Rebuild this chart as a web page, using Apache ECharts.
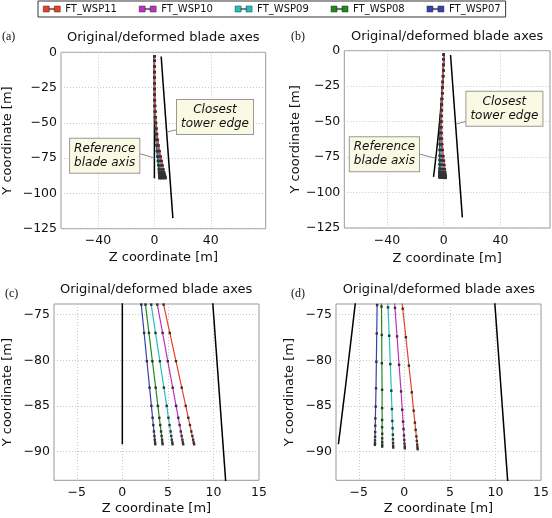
<!DOCTYPE html>
<html><head><meta charset="utf-8">
<script src="https://cdn.jsdelivr.net/npm/echarts@6/dist/echarts.min.js"></script>
<style>html,body{margin:0;padding:0;background:#fff}#c{width:552px;height:518px}</style>
</head><body><div id="c"></div>
<script>
// ---------------- DATA ----------------
const seriesNames = ['FT_WSP11', 'FT_WSP10', 'FT_WSP09', 'FT_WSP08', 'FT_WSP07'];
const seriesColors = ['#e8402a', '#c030c0', '#22bfbf', '#1f8a1f', '#3444a8'];

// blade stations (Y coordinate, m)
const stationsY = [-2.8, -6, -10, -14, -18, -22, -26, -30, -34, -38, -42, -46, -50, -54, -58, -62, -66, -70,
  -73.9, -77.0, -80.1, -83.0, -85.0, -86.3, -87.1, -87.8, -88.3, -88.7, -89.0, -89.2];

// configuration A (panels a, c): Z coordinate of deformed blade axes
const wsp11A = [0, 0.00, 0.01, 0.03, 0.07, 0.11, 0.17, 0.26, 0.37, 0.51, 0.69, 0.92, 1.20, 1.54, 1.95, 2.45, 3.04, 3.74, 4.53, 5.21, 5.89, 6.52, 6.96, 7.24, 7.42, 7.57, 7.68, 7.77, 7.83, 7.88];
const wsp10A = [0, 0.00, 0.01, 0.03, 0.06, 0.09, 0.15, 0.22, 0.31, 0.43, 0.58, 0.78, 1.01, 1.30, 1.66, 2.08, 2.58, 3.17, 3.84, 4.42, 4.99, 5.53, 5.90, 6.14, 6.29, 6.42, 6.51, 6.59, 6.64, 6.68];
const wsp09A = [0, 0.00, 0.01, 0.02, 0.05, 0.08, 0.12, 0.18, 0.26, 0.36, 0.48, 0.64, 0.84, 1.08, 1.37, 1.71, 2.13, 2.62, 3.17, 3.64, 4.12, 4.56, 4.87, 5.06, 5.18, 5.30, 5.37, 5.43, 5.48, 5.51];
const wsp08A = [0, 0.00, 0.01, 0.02, 0.04, 0.06, 0.10, 0.14, 0.21, 0.29, 0.39, 0.51, 0.67, 0.86, 1.10, 1.37, 1.71, 2.10, 2.54, 2.92, 3.30, 3.66, 3.90, 4.06, 4.16, 4.25, 4.31, 4.36, 4.39, 4.42];
const wsp07A = [0, 0.00, 0.01, 0.02, 0.03, 0.05, 0.08, 0.12, 0.17, 0.23, 0.32, 0.42, 0.55, 0.71, 0.90, 1.12, 1.39, 1.71, 2.08, 2.39, 2.70, 2.99, 3.19, 3.32, 3.40, 3.47, 3.52, 3.56, 3.59, 3.61];
const refXA = [0, 0];
const refYA = [-2.8, -89.2];

// configuration B (panels b, d)
const wsp11B = [0, -0.05, -0.15, -0.30, -0.45, -0.63, -0.81, -0.98, -1.15, -1.29, -1.42, -1.51, -1.54, -1.53, -1.45, -1.29, -1.03, -0.66, -0.18, 0.17, 0.50, 0.82, 1.02, 1.16, 1.24, 1.32, 1.37, 1.41, 1.44, 1.46];
const wsp10B = [0, -0.05, -0.16, -0.31, -0.47, -0.65, -0.84, -1.03, -1.22, -1.39, -1.54, -1.68, -1.77, -1.82, -1.81, -1.75, -1.60, -1.36, -1.03, -0.80, -0.58, -0.36, -0.23, -0.14, -0.09, -0.04, -0.01, 0.02, 0.04, 0.05];
const wsp09B = [0, -0.05, -0.16, -0.31, -0.48, -0.67, -0.87, -1.08, -1.28, -1.47, -1.66, -1.83, -1.97, -2.07, -2.14, -2.16, -2.11, -1.99, -1.79, -1.66, -1.54, -1.43, -1.36, -1.32, -1.29, -1.26, -1.25, -1.24, -1.23, -1.22];
const wsp08B = [0, -0.05, -0.16, -0.32, -0.49, -0.69, -0.90, -1.12, -1.34, -1.56, -1.77, -1.98, -2.16, -2.32, -2.46, -2.55, -2.59, -2.59, -2.51, -2.48, -2.47, -2.44, -2.44, -2.44, -2.44, -2.43, -2.43, -2.43, -2.43, -2.43];
const wsp07B = [0, -0.05, -0.16, -0.32, -0.50, -0.70, -0.92, -1.14, -1.38, -1.61, -1.84, -2.07, -2.29, -2.48, -2.66, -2.81, -2.92, -2.98, -2.99, -3.03, -3.07, -3.11, -3.15, -3.18, -3.19, -3.20, -3.21, -3.22, -3.22, -3.23];
// outer stations of configuration B (Y, m), per series
const tipY11B = [-74.35, -77.47, -80.59, -83.51, -85.52, -86.83, -87.63, -88.34, -88.84, -89.24, -89.54, -89.74];
const tipY10B = [-74.26, -77.38, -80.49, -83.41, -85.42, -86.72, -87.53, -88.23, -88.73, -89.13, -89.44, -89.64];
const tipY09B = [-74.20, -77.31, -80.42, -83.33, -85.34, -86.65, -87.45, -88.15, -88.65, -89.05, -89.36, -89.56];
const tipY08B = [-74.11, -77.22, -80.32, -83.23, -85.24, -86.54, -87.34, -88.05, -88.55, -88.95, -89.25, -89.45];
const tipY07B = [-73.96, -77.06, -80.16, -83.07, -85.07, -86.37, -87.17, -87.87, -88.37, -88.77, -89.07, -89.27];
const refXB = [0, -0.05, -0.17, -0.34, -0.53, -0.76, -1.01, -1.28, -1.57, -1.88, -2.21, -2.56, -2.92, -3.30, -3.70, -4.11, -4.53, -4.97, -5.40, -5.76, -6.13, -6.47, -6.72, -6.88, -6.98, -7.06, -7.13, -7.18, -7.21, -7.24];

// closest tower edge
const towerX = [4.8, 13.1];
const towerY = [-3, -117.5];

// tick labels
const ticksXFull = [-40, 0, 40];
const ticksYFull = [-125, -100, -75, -50, -25, 0];
const ticksXZoom = [-5, 0, 5, 10, 15];
const ticksYZoom = [-90, -85, -80, -75];

const panelLetters = ['(a)', '(b)', '(c)', '(d)'];
const panelTitle = 'Original/deformed blade axes';
const xName = 'Z coordinate [m]';
const yName = 'Y coordinate [m]';

// ---------------- BUILD ----------------
const zip = (xs, ys) => xs.map((x, i) => [x, ys[i]]);
const inner = stationsY.slice(0, 18);
const bladesA = [wsp11A, wsp10A, wsp09A, wsp08A, wsp07A].map(xs => zip(xs, stationsY));
const bladesB = [[wsp11B, tipY11B], [wsp10B, tipY10B], [wsp09B, tipY09B], [wsp08B, tipY08B], [wsp07B, tipY07B]]
  .map(([xs, tip]) => zip(xs, inner.concat(tip)));
const refA = zip(refXA, refYA);
const refB = zip(refXB, stationsY);
const tower = zip(towerX, towerY);

const FONT = 'DejaVu Sans';
const fmt = v => String(v).replace('-', '\u2212');

const panels = [
  {grid: {left: 60.7, top: 52.3, width: 205, height: 176.4}, x: [-66.3, 79.0], xt: ticksXFull, y: [-125, 0], yt: ticksYFull, blades: bladesA, ref: refA, xGap: 22, yGap: 47},
  {grid: {left: 344.3, top: 50.7, width: 205.7, height: 177.3}, x: [-70.1, 74.9], xt: ticksXFull, y: [-125, 0], yt: ticksYFull, blades: bladesB, ref: refB, xGap: 24, yGap: 41},
  {grid: {left: 53.3, top: 304, width: 205.7, height: 176.3}, x: [-7.5, 15], xt: ticksXZoom, y: [-93.15, -73.83], yt: ticksYZoom, blades: bladesA, ref: refA, xGap: 22, yGap: 40},
  {grid: {left: 336, top: 304, width: 205.7, height: 176.3}, x: [-7.5, 15], xt: ticksXZoom, y: [-93.15, -73.83], yt: ticksYZoom, blades: bladesB, ref: refB, xGap: 22, yGap: 40}
];

const grids = [], xAxes = [], yAxes = [], series = [], titles = [];
panels.forEach((p, i) => {
  grids.push(Object.assign({show: true, borderColor: '#999', borderWidth: 1, backgroundColor: '#fff', containLabel: false}, p.grid));
  const splitLine = {show: true, lineStyle: {color: '#c8c8c8', type: [1, 2], width: 1}};
  xAxes.push({
    type: 'value', gridIndex: i, min: p.x[0], max: p.x[1],
    axisLine: {show: false}, axisTick: {show: false, customValues: p.xt},
    axisLabel: {customValues: p.xt, formatter: fmt, fontSize: 12.5, color: '#111', margin: 6, fontFamily: FONT},
    splitLine: splitLine,
    name: xName, nameLocation: 'middle', nameGap: p.xGap,
    nameTextStyle: {fontSize: 13, color: '#111', fontFamily: FONT}
  });
  yAxes.push({
    type: 'value', gridIndex: i, min: p.y[0], max: p.y[1],
    axisLine: {show: false}, axisTick: {show: false, customValues: p.yt},
    axisLabel: {customValues: p.yt, formatter: fmt, fontSize: 12.5, color: '#111', margin: 4, fontFamily: FONT},
    splitLine: splitLine,
    name: yName, nameLocation: 'middle', nameGap: p.yGap, nameRotate: 90,
    nameTextStyle: {fontSize: 13, color: '#111', fontFamily: FONT}
  });
  series.push({type: 'line', name: 'tower' + i, xAxisIndex: i, yAxisIndex: i, data: tower, showSymbol: false,
    lineStyle: {color: '#000', width: 1.5}, z: 2, silent: true});
  series.push({type: 'line', name: 'ref' + i, xAxisIndex: i, yAxisIndex: i, data: p.ref, showSymbol: false,
    lineStyle: {color: '#000', width: 1.5}, z: 2, silent: true});
  p.blades.forEach((d, k) => {
    series.push({type: 'line', name: seriesNames[k], xAxisIndex: i, yAxisIndex: i, data: d,
      symbol: 'rect', symbolSize: 2.4, showSymbol: true,
      itemStyle: {color: '#333', borderWidth: 0},
      lineStyle: {color: seriesColors[k], width: 1.2}, z: 3 + (4 - k), clip: true});
  });
  titles.push({text: panelTitle, left: p.grid.left + p.grid.width / 2, textAlign: 'center',
    top: p.grid.top - 21, padding: 0,
    textStyle: {fontSize: 13, fontWeight: 'normal', color: '#111', fontFamily: FONT}});
});
const letterPos = [[2, 31], [291, 31], [5, 288], [291, 288]];
panelLetters.forEach((t, i) => {
  titles.push({text: t, left: letterPos[i][0], top: letterPos[i][1], padding: 0,
    textStyle: {fontSize: 12, fontWeight: 'normal', color: '#111', fontFamily: 'Liberation Serif'}});
});

function note(cx, cy, text, lx1, ly1, lx2, ly2) {
  return [
    {type: 'line', shape: {x1: lx1, y1: ly1, x2: lx2, y2: ly2}, style: {stroke: '#888', lineWidth: 1}, z: 50},
    {type: 'text', x: cx, y: cy, z: 51, style: {
      text: text, font: 'italic 12px "DejaVu Sans"', fill: '#111',
      align: 'center', verticalAlign: 'middle', textAlign: 'center', textVerticalAlign: 'middle',
      lineHeight: 14, backgroundColor: '#fafae4', borderColor: '#999', borderWidth: 1, padding: [3, 4]}}
  ];
}
const graphics = [].concat(
  note(215, 117, 'Closest\ntower edge', 178.3, 129.5, 166.7, 132),
  note(104.7, 155.8, 'Reference\nblade axis', 139.3, 153.5, 154.3, 158),
  note(504.4, 108.7, 'Closest\ntower edge', 467.7, 121, 456, 124),
  note(384.4, 154.2, 'Reference\nblade axis', 417.7, 153.5, 435.3, 158.3)
);

const chart = echarts.init(document.getElementById('c'), null, {renderer: 'canvas'});
chart.setOption({
  animation: false,
  backgroundColor: '#fff',
  textStyle: {fontFamily: FONT},
  title: titles,
  legend: {
    data: seriesNames.map((n, k) => ({name: n, itemStyle: {color: seriesColors[k], borderColor: '#333', borderWidth: 0.5}})),
    left: 38, top: 1, orient: 'horizontal',
    itemWidth: 17, itemHeight: 6, itemGap: 22,
    icon: 'path://M0,0H6V6H0Z M11,0H17V6H11Z M6,2.4H11V3.6H6Z',
    padding: [3, 5, 3, 5], borderColor: '#333', borderWidth: 1, backgroundColor: '#fff',
    textStyle: {fontSize: 10, color: '#111', fontFamily: FONT}
  },
  grid: grids, xAxis: xAxes, yAxis: yAxes, series: series,
  graphic: graphics
});
</script></body></html>
